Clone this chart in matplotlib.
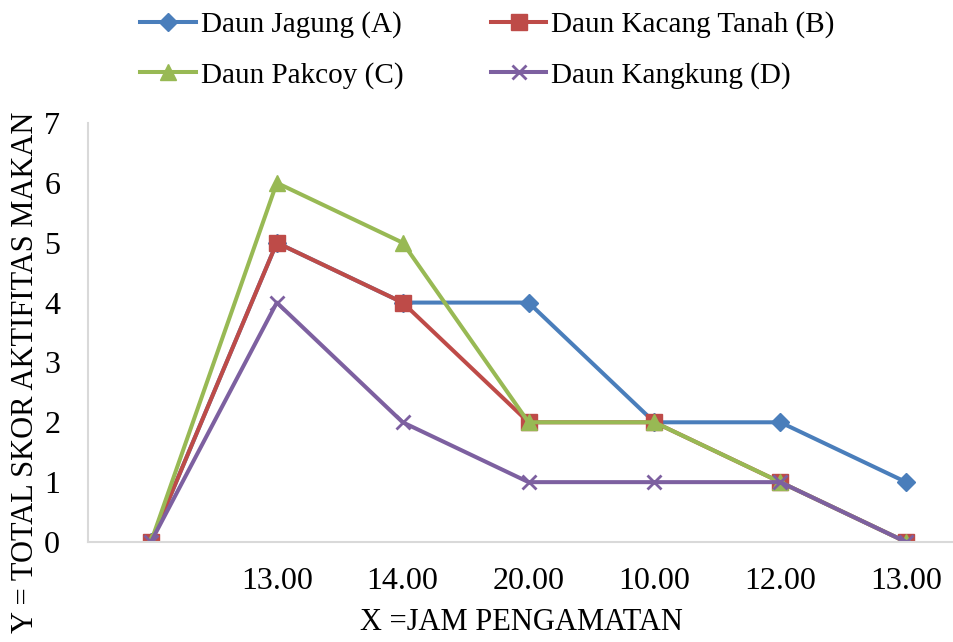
import matplotlib.pyplot as plt

# data
jam = ['', '13.00', '14.00', '20.00', '10.00', '12.00', '13.00']
jagung = [0, 5, 4, 4, 2, 2, 1]
kacang_tanah = [0, 5, 4, 2, 2, 1, 0]
pakcoy = [0, 6, 5, 2, 2, 1, 0]
kangkung = [0, 4, 2, 1, 1, 1, 0]

plt.rcParams['font.family'] = ['Liberation Serif', 'DejaVu Serif']

fig = plt.figure(figsize=(9.54, 6.42), dpi=100)
ax = fig.add_axes([88 / 954, 1 - 542 / 642, 1 - 88 / 954, (542 - 123) / 642])

x = list(range(len(jam)))
lw = 2.9
la, = ax.plot(x, jagung, color='#4a7ebb', lw=lw, marker='D', ms=9, label='Daun Jagung (A)')
lb, = ax.plot(x, kacang_tanah, color='#be4b48', lw=lw, marker='s', ms=11, label='Daun Kacang Tanah (B)')
lc, = ax.plot(x, pakcoy, color='#98b954', lw=lw, marker='^', ms=11, label='Daun Pakcoy (C)')
ld, = ax.plot(x, kangkung, color='#7d60a0', lw=lw, marker='x', ms=10, mew=2, label='Daun Kangkung (D)')

ax.set_xlim(-0.5, 6.38)
ax.set_ylim(0, 7)
ax.set_xticks(x)
ax.set_xticklabels(jam)
ax.set_yticks(range(8))
ax.tick_params(axis='both', length=0, labelsize=23)
ax.tick_params(axis='x', pad=18)
ax.tick_params(axis='y', pad=20)

for s in ['top', 'right']:
    ax.spines[s].set_visible(False)
for s in ['left', 'bottom']:
    ax.spines[s].set_color('#d9d9d9')
    ax.spines[s].set_linewidth(1.5)

ax.set_xlabel('X =JAM PENGAMATAN', fontsize=22, labelpad=9)
ax.set_ylabel('Y = TOTAL SKOR AKTIFITAS MAKAN', fontsize=22)
ax.yaxis.set_label_coords(-48 / 866, 0.405)

# legend filled row by row: A, B on top, C, D below
fig.legend([la, lc, lb, ld], [la.get_label(), lc.get_label(), lb.get_label(), ld.get_label()],
           loc='upper center', bbox_to_anchor=(0.511, 1.023), ncol=2, frameon=False,
           fontsize=21, handlelength=1.9, handletextpad=0.17, columnspacing=3.0,
           labelspacing=0.8)

fig.savefig('out.png', dpi=100)
